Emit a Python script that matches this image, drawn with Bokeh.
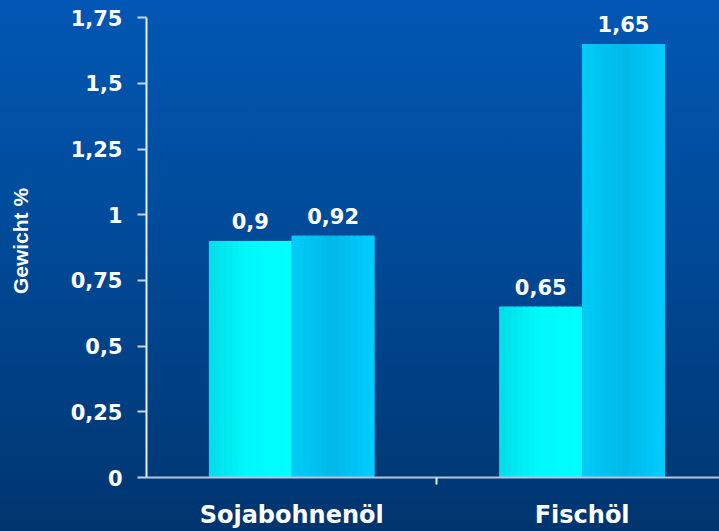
from bokeh.plotting import figure
from bokeh.models import FixedTicker, Range1d, LabelSet, ColumnDataSource
from bokeh.core.properties import value
from bokeh.embed import file_html
from bokeh.resources import INLINE

# Data
categories = ["Sojabohnenöl", "Fischöl"]
series_a = [0.9, 0.65]
series_b = [0.92, 1.65]
labels_a = ["0,9", "0,65"]
labels_b = ["0,92", "1,65"]
y_ticks = [0, 0.25, 0.5, 0.75, 1, 1.25, 1.5, 1.75]
y_tick_labels = ["0", "0,25", "0,5", "0,75", "1", "1,25", "1,5", "1,75"]

BAR_W = 0.285
N_STRIPS = 14

# the frame reaches a little above 1.75 so the top value label has room;
# the axis itself is bounded at 1.75
p = figure(width=719, height=531, output_backend="svg", toolbar_location=None,
           x_range=Range1d(0, 1.973), y_range=Range1d(0, 1.8),
           min_border_left=146, min_border_right=0, min_border_top=4,
           min_border_bottom=54)
p.background_fill_color = None
p.border_fill_color = None
p.outline_line_color = None
p.styles = {"background": "linear-gradient(to bottom, #0157b3 0%, #004a98 45%, #00356f 100%)"}
p.xgrid.visible = False
p.ygrid.visible = False


def hex_to_rgb(h):
    h = h.lstrip("#")
    return tuple(int(h[i:i + 2], 16) for i in (0, 2, 4))


def shade(stops, t):
    for (t0, c0), (t1, c1) in zip(stops, stops[1:]):
        if t0 <= t <= t1:
            f = 0 if t1 == t0 else (t - t0) / (t1 - t0)
            a, b = hex_to_rgb(c0), hex_to_rgb(c1)
            return "#%02x%02x%02x" % tuple(round(a[k] + (b[k] - a[k]) * f) for k in range(3))
    return stops[-1][1]


def draw_bars(values, offset, stops):
    centers = [i + 0.5 + offset for i in range(len(values))]
    lefts = [c - BAR_W / 2 for c in centers]
    rights = [c + BAR_W / 2 for c in centers]
    # solid base bar, then vertical strips for the horizontal shading
    p.quad(left=lefts, right=rights, bottom=0, top=values,
           fill_color=shade(stops, 0.5), line_color=None)
    sw = BAR_W / N_STRIPS
    for k in range(N_STRIPS):
        col = shade(stops, (k + 0.5) / N_STRIPS)
        p.quad(left=[l + k * sw for l in lefts],
               right=[min(l + (k + 1) * sw + sw * 0.3, r) for l, r in zip(lefts, rights)],
               bottom=0, top=values, fill_color=col, line_color=None)
    return centers


stops_a = [(0.0, "#00dde9"), (0.45, "#00f8fa"), (1.0, "#00ffff")]
stops_b = [(0.0, "#00ccf8"), (0.5, "#00b9e8"), (1.0, "#00ccff")]

centers_a = draw_bars(series_a, -BAR_W / 2, stops_a)
centers_b = draw_bars(series_b, BAR_W / 2, stops_b)

# value labels floating above each bar
lab_src = ColumnDataSource(dict(x=centers_a + centers_b,
                                y=series_a + series_b,
                                text=labels_a + labels_b))
p.add_layout(LabelSet(x="x", y="y", text="text", source=lab_src,
                      x_offset=0, y_offset=12, text_color="white",
                      text_font=value("DejaVu Sans"), text_font_style="bold",
                      text_font_size=value("21px"), text_align="center",
                      text_baseline="alphabetic"))

# Y axis
ya = p.yaxis[0]
ya.ticker = FixedTicker(ticks=y_ticks)
ya.bounds = (0, 1.75)
ya.major_label_overrides = {t: s for t, s in zip(y_ticks, y_tick_labels)}
ya.major_label_text_font = "DejaVu Sans"
ya.major_label_text_font_style = "bold"
ya.major_label_text_font_size = "21px"
ya.major_label_text_color = "white"
ya.major_label_standoff = 15
ya.major_tick_out = 9
ya.major_tick_in = 0
ya.minor_tick_out = 0
ya.minor_tick_in = 0
ya.axis_line_color = "#e6edf6"
ya.axis_line_width = 2
ya.major_tick_line_color = "#c8d6e8"
ya.major_tick_line_width = 2
ya.axis_label = "Gewicht %"
ya.axis_label_text_font = "Liberation Sans"
ya.axis_label_text_font_style = "bold"
ya.axis_label_text_font_size = "21px"
ya.axis_label_text_color = "white"
ya.axis_label_standoff = 36

# X axis: labels at group centres, separator tick between groups
xa = p.xaxis[0]
xa.ticker = FixedTicker(ticks=[0.5, 1.5], minor_ticks=[1])
xa.major_label_overrides = {0.5: categories[0], 1.5: categories[1]}
xa.major_label_text_font = "DejaVu Sans"
xa.major_label_text_font_style = "bold"
xa.major_label_text_font_size = "24px"
xa.major_label_text_color = "white"
xa.major_label_standoff = 16
xa.major_tick_out = 0
xa.major_tick_in = 0
xa.minor_tick_out = 7
xa.minor_tick_in = 0
xa.minor_tick_line_color = "#e6edf6"
xa.minor_tick_line_width = 2
xa.axis_line_color = "#b4c6dc"
xa.axis_line_width = 2

open("out.html", "w").write(file_html(p, INLINE))
